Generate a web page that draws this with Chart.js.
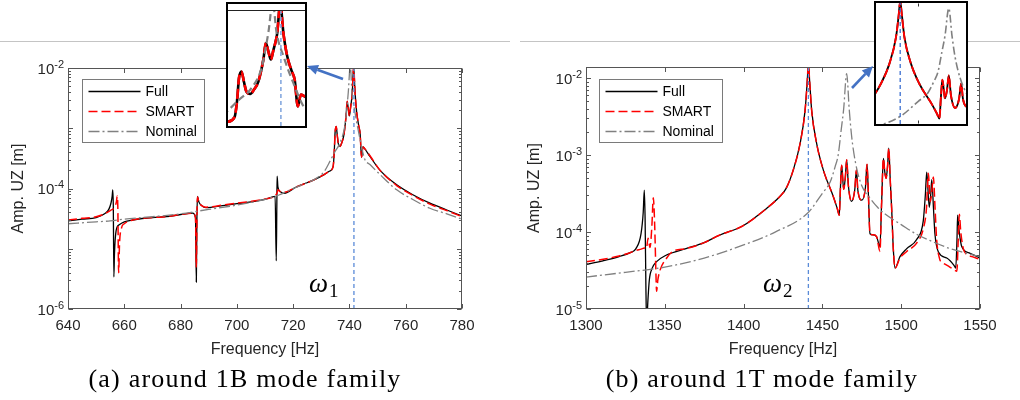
<!DOCTYPE html>
<html><head><meta charset="utf-8">
<script src="https://cdn.jsdelivr.net/npm/chart.js@4.4.1/dist/chart.umd.min.js"></script>
<style>
body{margin:0;background:#fff;width:1020px;height:400px;position:relative;overflow:hidden;font-family:"Liberation Sans",Arial,sans-serif;}
.hl{position:absolute;height:1px;background:#c4c4c4;top:41px;}
canvas{position:absolute;}
.inset{position:absolute;box-sizing:border-box;border:2px solid #000;background:#fff;}
.inset canvas{left:0;top:0;}
.cap{position:absolute;top:366px;width:500px;text-align:center;font-family:"Liberation Serif",serif;font-size:26px;line-height:26px;letter-spacing:1.2px;color:#000;white-space:nowrap;}
</style></head><body>
<div class="hl" style="left:0;width:510px"></div>
<div class="hl" style="left:520px;width:500px"></div>
<canvas id="cA" width="500" height="365" style="left:0;top:0"></canvas>
<canvas id="cB" width="510" height="365" style="left:510px;top:0"></canvas>
<div class="inset" style="left:226px;top:2px;width:81px;height:126px"><canvas id="iA" width="77" height="122"></canvas></div>
<div class="inset" style="left:874px;top:1px;width:94px;height:125px"><canvas id="iB" width="90" height="121"></canvas></div>
<div class="cap" style="left:-5px">(a) around 1B mode family</div>
<div class="cap" style="left:512px">(b) around 1T mode family</div>
<script>
// ---------- data: panel (a), around 1B ----------
const fA_full = [640,645,650,653,654.5,655.3,655.7,655.9,656.1,656.3,656.5,657.1,658.2,660,663,670,675,680,684.3,685.3,685.6,685.8,686.0,686.5,687.5,689,695,700,705,710,713.6,714.0,714.2,714.3,714.6,715.5,716.5,721.3,727.2,731,733,734.2,734.6,734.9,735.3,735.7,736.1,736.7,737.3,738.0,738.8,739.2,739.6,740.0,740.4,740.7,741.0,741.5,742.0,742.6,743.3,743.8,744.3,744.8,745.4,747.3,750.9,756.8,762.7,768.6,774.6,780];
const yA_full = [2.9e-5,3.1e-5,3.3e-5,3.8e-5,4.5e-5,5.8e-5,7.5e-5,9.5e-5,5e-5,3.4e-6,8e-6,2.0e-5,2.5e-5,2.8e-5,3.0e-5,3.3e-5,3.4e-5,3.7e-5,3.9e-5,3.3e-5,2.8e-6,3e-5,7.4e-5,6e-5,5.2e-5,4.8e-5,5.2e-5,5.6e-5,6.0e-5,6.6e-5,7.4e-5,6.3e-6,5e-5,1.6e-4,1.05e-4,8.8e-5,8.3e-5,1.07e-4,1.38e-4,1.7e-4,1.95e-4,2.3e-4,4e-4,8.5e-4,1.07e-3,7.5e-4,5.4e-4,5e-4,5.8e-4,7.6e-4,1.6e-3,2.8e-3,2.1e-3,1.6e-3,2.2e-3,2.8e-3,3.8e-3,1.05e-2,3.9e-3,1.8e-3,1.1e-3,8.1e-4,3.3e-4,4.9e-4,4.6e-4,3.4e-4,2.0e-4,1.15e-4,7.8e-5,5.7e-5,4.4e-5,3.5e-5];
const fA_smart = [640,645,650,653,655,656.5,657.2,657.5,657.7,658.0,658.3,659,660,663,670,675,680,684.3,685.3,685.6,685.8,686.0,686.5,687.5,689,695,700,705,710,713.6,714.3,714.6,715.2,716.5,721.3,727.2,731,733,734.2,734.6,734.9,735.3,735.7,736.1,736.7,737.3,738.0,738.8,739.2,739.6,740.0,740.4,740.7,741.0,741.5,742.0,742.6,743.3,743.8,744.3,744.8,745.4,747.3,750.9,756.8,762.7,768.6,774.6,780];
const yA_smart = [3.0e-5,3.2e-5,3.4e-5,3.8e-5,4.3e-5,4.9e-5,6.0e-5,7.5e-5,5e-5,4e-6,1.2e-5,2.2e-5,2.6e-5,3.0e-5,3.3e-5,3.4e-5,3.7e-5,3.9e-5,3.3e-5,5e-6,3e-5,7.2e-5,6e-5,5.2e-5,4.9e-5,5.3e-5,5.7e-5,6.1e-5,6.7e-5,7.6e-5,8.5e-5,9.5e-5,9.0e-5,8.6e-5,1.07e-4,1.38e-4,1.7e-4,1.95e-4,2.3e-4,4e-4,8.5e-4,1.07e-3,7.5e-4,5.4e-4,5e-4,5.8e-4,7.6e-4,1.6e-3,2.8e-3,2.1e-3,1.6e-3,2.2e-3,2.8e-3,3.8e-3,1.05e-2,3.9e-3,1.8e-3,1.1e-3,8.1e-4,3.3e-4,4.9e-4,4.6e-4,3.5e-4,2.0e-4,1.12e-4,7.6e-5,5.5e-5,4.3e-5,3.4e-5];
const fA_nom = [640,650,655,660,670,680,690,700,710,715,720,725,728,731,733.2,735,736.7,738.5,739.6,740.3,740.9,742,743.6,745.4,747.3,750.9,756.8,762.7,768.6,774.6,780];
const yA_nom = [2.6e-5,2.8e-5,2.9e-5,3.1e-5,3.4e-5,3.8e-5,4.5e-5,5.3e-5,6.6e-5,7.8e-5,1.0e-4,1.25e-4,1.45e-4,1.9e-4,2.9e-4,4.2e-4,5.8e-4,1.2e-3,4e-3,1.1e-2,4e-3,1.8e-3,7.2e-4,3.1e-4,2.5e-4,1.7e-4,9.5e-5,6.5e-5,4.7e-5,3.8e-5,3.1e-5];
const omega1 = 741.6;
const xTicksA = [640,660,680,700,720,740,760,780];
const yTicksA = [1e-6,1e-4,1e-2];
const yExpA = ['-6','-4','-2'];

// ---------- data: panel (b), around 1T ----------
const fB_full = [1300,1310,1321,1328,1331.7,1334.9,1336.3,1337.0,1337.5,1338.0,1338.5,1339.2,1340.2,1342,1344.6,1350.8,1363.5,1375,1384.6,1399.4,1414.2,1423,1427,1431.5,1435.8,1439,1440.3,1441.1,1442,1443.2,1446.4,1450.6,1456.9,1459.5,1460.7,1461.5,1462.2,1463.5,1464.5,1465.4,1466.5,1468.5,1470.5,1471.6,1472.5,1475,1477.3,1478.3,1479.2,1480.2,1482.3,1484.4,1486.5,1487.6,1488.7,1489.6,1490.4,1491.3,1492.1,1493,1494,1495,1496.1,1499.2,1503.5,1509.8,1514,1515.3,1516.2,1517.8,1518.7,1519.4,1520.5,1521.4,1523.6,1528.9,1533.5,1534.6,1535.4,1535.8,1536.6,1538.4,1543.7,1550];
const yB_full = [3.8e-5,4.2e-5,4.8e-5,5.4e-5,6.1e-5,9.5e-5,1.8e-4,3.5e-4,1.5e-4,2e-5,6e-6,1.2e-5,2.4e-5,3.4e-5,4.1e-5,5.0e-5,6.1e-5,7.3e-5,9.1e-5,1.2e-4,2.0e-4,2.9e-4,3.7e-4,6.4e-4,1.4e-3,3.8e-3,8.5e-3,1.5e-2,8.5e-3,3.8e-3,1.4e-3,6.4e-4,2.9e-4,2e-4,1.66e-4,4e-4,7.4e-4,3.6e-4,5e-4,8.7e-4,4e-4,2.5e-4,3.5e-4,6.4e-4,3.5e-4,2.6e-4,3.8e-4,7.6e-4,3e-4,9.5e-5,9.2e-5,8.7e-5,6.5e-5,2.5e-4,9.1e-4,6e-4,5e-4,7e-4,1.23e-3,5e-4,1.9e-4,6e-5,3.4e-5,4.8e-5,6.1e-5,8e-5,1.4e-4,3e-4,6e-4,2.1e-4,3e-4,4.8e-4,2e-4,9.5e-5,5.5e-5,4.6e-5,3.7e-5,3.4e-5,8e-5,1.66e-4,1.1e-4,6.5e-5,5.3e-5,4.6e-5];
const fB_smart = [1300,1310,1321,1328,1332,1335,1337,1338.3,1339.4,1340.6,1341.8,1342.7,1343.6,1344.2,1344.8,1345.6,1347,1351.2,1355,1363.5,1375,1384.6,1399.4,1414.2,1423,1427,1431.5,1435.8,1439,1440.3,1441.1,1442,1443.2,1446.4,1450.6,1456.9,1459.5,1460.7,1461.5,1462.2,1463.5,1464.5,1465.4,1466.5,1468.5,1470.5,1471.6,1472.5,1475,1477.3,1478.3,1479.2,1480.2,1482.3,1484.4,1486.5,1487.6,1488.7,1489.6,1490.4,1491.3,1492.1,1493,1494,1495,1496.1,1499.2,1503.5,1509.8,1514,1516,1517.2,1518.5,1519.5,1520.4,1521.5,1522.5,1524.5,1525.7,1530,1534,1535.3,1536.2,1536.9,1537.8,1539.5,1541.6,1545,1550];
const yB_smart = [4.1e-5,4.4e-5,4.9e-5,5.4e-5,5.8e-5,6.0e-5,6.2e-5,6.1e-5,8.3e-5,6.3e-5,1.2e-4,2.8e-4,1.2e-4,4e-5,1.7e-5,2.4e-5,3.2e-5,4.6e-5,5.6e-5,6.1e-5,7.3e-5,9.1e-5,1.2e-4,2.0e-4,2.9e-4,3.7e-4,6.4e-4,1.4e-3,3.8e-3,8.5e-3,1.5e-2,8.5e-3,3.8e-3,1.4e-3,6.4e-4,2.9e-4,2e-4,1.66e-4,4e-4,7.4e-4,3.6e-4,5e-4,8.7e-4,4e-4,2.5e-4,3.5e-4,6.4e-4,3.5e-4,2.6e-4,3.8e-4,7.6e-4,3e-4,9.5e-5,9.2e-5,8.7e-5,5.6e-5,2.5e-4,9.1e-4,6e-4,5e-4,7e-4,1.23e-3,5e-4,1.9e-4,6e-5,3.4e-5,4.6e-5,5.6e-5,7.2e-5,1.1e-4,2e-4,5.8e-4,2.5e-4,3.5e-4,5.2e-4,2e-4,8e-5,4.4e-5,4.1e-5,3.6e-5,3.2e-5,3.1e-5,8e-5,1.7e-4,1e-4,6e-5,5.1e-5,4.8e-5,4.4e-5];
const fB_nom = [1300,1325,1350,1375,1400,1420,1441,1450,1455,1458,1460,1462,1463.5,1465.4,1467,1468.5,1471,1475,1480,1485,1490,1500,1510,1520,1530,1540,1550];
const yB_nom = [2.6e-5,3.0e-5,3.5e-5,4.6e-5,6.8e-5,1.0e-4,1.8e-4,3.2e-4,4.5e-4,7e-4,1e-3,2.2e-3,4e-3,1.15e-2,4e-3,1.8e-3,8e-4,4e-4,2.8e-4,2.1e-4,1.7e-4,1.25e-4,9.3e-5,7.5e-5,6.2e-5,5.4e-5,4.8e-5];
const omega2 = 1441.1;
const xTicksB = [1300,1350,1400,1450,1500,1550];
const yTicksB = [1e-5,1e-4,1e-3,1e-2];
const yExpB = ['-5','-4','-3','-2'];

const seriesNames = ['Full','SMART','Nominal'];

// ---------- helpers ----------
const pts = (fs, ys) => fs.map((f, i) => ({x: f, y: ys[i]}));
const COL = {full:'#000000', smart:'#ff0000', nom:'#808080', blue:'#5b8bd8', arrow:'#4472c4', axis:'#555555', text:'#262626'};
const SANS = '"Liberation Sans", Arial, sans-serif';

const frame = {
  id: 'frame',
  afterDatasetsDraw(chart, args, o) {
    if (!o || !o.on) return;
    const {ctx, chartArea: a} = chart;
    const x = chart.scales.x, y = chart.scales.y;
    ctx.save();
    ctx.strokeStyle = o.color; ctx.lineWidth = o.lw || 1;
    const L = Math.round(a.left) + 0.5, R = Math.round(a.right) - 0.5, T = Math.round(a.top) + 0.5, B = Math.round(a.bottom) - 0.5;
    if (o.box) ctx.strokeRect(L, T, R - L, B - T);
    if (o.topLine) { ctx.beginPath(); ctx.moveTo(a.left, T); ctx.lineTo(a.right, T); ctx.stroke(); }
    ctx.beginPath();
    for (const v of (o.xTicks || [])) {
      const p = Math.round(x.getPixelForValue(v)) + 0.5;
      ctx.moveTo(p, B); ctx.lineTo(p, B - o.major);
      ctx.moveTo(p, T); ctx.lineTo(p, T + o.major);
    }
    if (o.yTicks) {
      const lo = Math.floor(Math.log10(y.min)), hi = Math.ceil(Math.log10(y.max));
      for (let d = lo; d <= hi; d++) for (let k = 1; k <= 9; k++) {
        const v = k * Math.pow(10, d);
        if (v < y.min * 0.999 || v > y.max * 1.001) continue;
        const p = Math.round(y.getPixelForValue(v)) + 0.5;
        const len = k === 1 ? o.major : o.minor;
        ctx.moveTo(L, p); ctx.lineTo(L + len, p);
        ctx.moveTo(R, p); ctx.lineTo(R - len, p);
      }
    }
    ctx.stroke();
    // power-of-ten tick labels on the y axis ("10" with raised exponent)
    if (o.yLabels) {
      ctx.fillStyle = COL.text; ctx.textAlign = 'left'; ctx.textBaseline = 'alphabetic';
      o.yLabels.values.forEach((v, i) => {
        const p = y.getPixelForValue(v);
        const exp = o.yLabels.exps[i];
        ctx.font = '11px ' + SANS;
        const we = ctx.measureText(exp).width;
        ctx.font = '15px ' + SANS;
        const wb = ctx.measureText('10').width;
        const right = a.left - 4;
        ctx.fillText('10', right - we - wb, p + 5.5);
        ctx.font = '11px ' + SANS;
        ctx.fillText(exp, right - we, p - 0.5);
      });
    }
    ctx.restore();
  }
};

const boxLegend = {
  id: 'boxLegend',
  afterDatasetsDraw(chart, args, o) {
    if (!o || !o.show) return;
    const {ctx, chartArea: a} = chart;
    const bx = Math.round(a.left + o.dx) + 0.5, by = Math.round(a.top + o.dy) + 0.5;
    ctx.save();
    ctx.fillStyle = '#fff'; ctx.fillRect(bx, by, o.w, o.h);
    ctx.strokeStyle = '#7a7a7a'; ctx.lineWidth = 1; ctx.strokeRect(bx, by, o.w, o.h);
    const items = chart.data.datasets.filter(d => seriesNames.includes(d.label));
    items.forEach((d, i) => {
      const cy = by + o.row0 + i * o.rowH;
      ctx.beginPath();
      ctx.setLineDash(d.borderDash || []);
      ctx.strokeStyle = d.borderColor; ctx.lineWidth = d.borderWidth;
      ctx.moveTo(bx + o.l0, cy); ctx.lineTo(bx + o.l1, cy); ctx.stroke();
      ctx.setLineDash([]);
      ctx.fillStyle = '#000'; ctx.font = '14px ' + SANS;
      ctx.textBaseline = 'middle'; ctx.textAlign = 'left';
      ctx.fillText(d.label, bx + o.tx, cy + 0.5);
    });
    ctx.restore();
  }
};

const annot = {
  id: 'annot',
  afterDraw(chart, args, o) {
    if (!o || !o.on) return;
    const ctx = chart.ctx;
    ctx.save();
    const [x1, y1, x2, y2] = o.arrow;
    const ang = Math.atan2(y2 - y1, x2 - x1), L = 11, W = 5;
    const bx = x2 - L * Math.cos(ang), by = y2 - L * Math.sin(ang);
    ctx.strokeStyle = COL.arrow; ctx.fillStyle = COL.arrow; ctx.lineWidth = 2.6;
    ctx.beginPath(); ctx.moveTo(x1, y1); ctx.lineTo(bx, by); ctx.stroke();
    ctx.beginPath(); ctx.moveTo(x2, y2);
    ctx.lineTo(bx - W * Math.sin(ang), by + W * Math.cos(ang));
    ctx.lineTo(bx + W * Math.sin(ang), by - W * Math.cos(ang));
    ctx.closePath(); ctx.fill();
    ctx.fillStyle = '#000'; ctx.textBaseline = 'alphabetic'; ctx.textAlign = 'left';
    ctx.font = 'italic 27px "Liberation Serif", serif';
    ctx.fillText('ω', o.wx, o.wy);
    const w = ctx.measureText('ω').width;
    ctx.font = '19px "Liberation Serif", serif';
    ctx.fillText(o.sub, o.wx + w + 1, o.wy + 5);
    ctx.restore();
  }
};

function seriesSets(fFull, yFull, fSmart, ySmart, fNom, yNom, omega, ymin, ymax, st) {
  const base = {pointRadius: 0, fill: false, cubicInterpolationMode: 'monotone', clip: 0};
  return [
    Object.assign({}, base, {label: 'Full', data: pts(fFull, yFull), borderColor: COL.full, borderWidth: st.wFull, order: 3}),
    Object.assign({}, base, {label: 'SMART', data: pts(fSmart, ySmart), borderColor: COL.smart, borderWidth: st.wSmart, borderDash: st.dSmart, order: 2}),
    Object.assign({}, base, {label: 'Nominal', data: pts(fNom, yNom), borderColor: COL.nom, borderWidth: st.wNom, borderDash: st.dNom, order: 1}),
    Object.assign({}, base, {label: 'omega', data: [{x: omega, y: ymin}, {x: omega, y: ymax}], borderColor: st.blue, borderWidth: st.wBlue, borderDash: [4, 3], order: 0, cubicInterpolationMode: 'default'})
  ];
}

const mainStyle = {wFull: 1.3, wSmart: 1.5, dSmart: [9, 4], wNom: 1.3, dNom: [11, 3, 2, 3], blue: COL.blue, wBlue: 1.3};

function mainChart(id, sets, xr, yr, xTicks, yTicks, yExps, pad, yW, titlePadY, legendOpt, annotOpt) {
  return new Chart(document.getElementById(id), {
    type: 'line',
    data: {datasets: sets},
    options: {
      responsive: false, animation: false, devicePixelRatio: 1,
      layout: {padding: pad},
      plugins: {legend: {display: false}, tooltip: {enabled: false},
        frame: {on: true, box: true, color: COL.axis, xTicks: xTicks, yTicks: true, major: 4.5, minor: 2.5,
                yLabels: {values: yTicks, exps: yExps}},
        boxLegend: legendOpt, annot: annotOpt},
      scales: {
        x: {type: 'linear', min: xr[0], max: xr[1],
          grid: {display: false, drawTicks: false}, border: {display: false},
          afterBuildTicks: s => { s.ticks = xTicks.map(v => ({value: v})); },
          afterFit: s => { s.height = 56; },
          ticks: {padding: 8, color: COL.text, font: {family: SANS, size: 15}, maxRotation: 0, autoSkip: false,
            callback: v => String(v)},
          title: {display: true, text: 'Frequency [Hz]', color: COL.text, font: {family: SANS, size: 16}, padding: {top: 0, bottom: 6}}
        },
        y: {type: 'logarithmic', min: yr[0], max: yr[1],
          grid: {display: false, drawTicks: false}, border: {display: false},
          afterBuildTicks: s => { s.ticks = yTicks.map(v => ({value: v})); },
          afterFit: s => { s.width = yW; },
          ticks: {display: false},
          title: {display: true, text: 'Amp. UZ [m]', color: COL.text, font: {family: SANS, size: 16}, padding: {top: titlePadY, bottom: 0}}
        }
      }
    },
    plugins: [frame, boxLegend, annot]
  });
}

function insetChart(id, sets, xr, yr, pad, frameOpt) {
  return new Chart(document.getElementById(id), {
    type: 'line',
    data: {datasets: sets},
    options: {
      responsive: false, animation: false, devicePixelRatio: 1,
      layout: {padding: pad},
      plugins: {legend: {display: false}, tooltip: {enabled: false}, frame: frameOpt},
      scales: {
        x: {type: 'linear', min: xr[0], max: xr[1], display: false},
        y: {type: 'logarithmic', min: yr[0], max: yr[1], display: false}
      }
    },
    plugins: [frame]
  });
}

// panel (a)
mainChart('cA',
  seriesSets(fA_full, yA_full, fA_smart, yA_smart, fA_nom, yA_nom, omega1, 1e-6, 1e-2, mainStyle),
  [640, 780], [1e-6, 1e-2], xTicksA, yTicksA, yExpA,
  {left: 0, top: 68, right: 38, bottom: 0}, 68, 9,
  {show: true, dx: 14, dy: 11, w: 122, h: 63, row0: 12, rowH: 20, l0: 6, l1: 58, tx: 63},
  {on: true, arrow: [343, 79, 307, 66], wx: 309, wy: 292, sub: '1'});

// panel (b)
mainChart('cB',
  seriesSets(fB_full, yB_full, fB_smart, yB_smart, fB_nom, yB_nom, omega2, 1e-5, 0.014, mainStyle),
  [1300, 1550], [1e-5, 0.014], xTicksB, yTicksB, yExpB,
  {left: 0, top: 67, right: 40, bottom: 0}, 76, 15,
  {show: true, dx: 13, dy: 12, w: 123, h: 63, row0: 12, rowH: 20, l0: 6, l1: 58, tx: 63},
  {on: true, arrow: [342, 88, 363, 66], wx: 253, wy: 292, sub: '2'});

// insets
insetChart('iA',
  seriesSets(fA_full, yA_full, fA_smart, yA_smart, fA_nom, yA_nom, omega1, 1.7e-4, 8.5e-3,
    {wFull: 2.6, wSmart: 2.6, dSmart: [10, 4], wNom: 2.2, dNom: [7, 4], blue: '#7ea3dd', wBlue: 1.5}),
  [733.15, 745.45], [1.7e-4, 8.5e-3], {left: 0, top: 6, right: 0, bottom: 0},
  {on: true, box: false, topLine: true, color: '#222', lw: 1.2, major: 0, minor: 0});

insetChart('iB',
  seriesSets(fB_full, yB_full, fB_smart, yB_smart, fB_nom, yB_nom, omega2, 1.35e-4, 0.0141,
    {wFull: 1.8, wSmart: 1.9, dSmart: [9, 3], wNom: 1.6, dNom: [8, 3, 2, 3], blue: '#3b6fd0', wBlue: 1.3}),
  [1429, 1474], [1.35e-4, 0.0141], {left: 0, top: 0, right: 0, bottom: 0},
  {on: true, box: false, color: '#333', lw: 1, xTicks: [1450], major: 3, minor: 0});
</script>
</body></html>
